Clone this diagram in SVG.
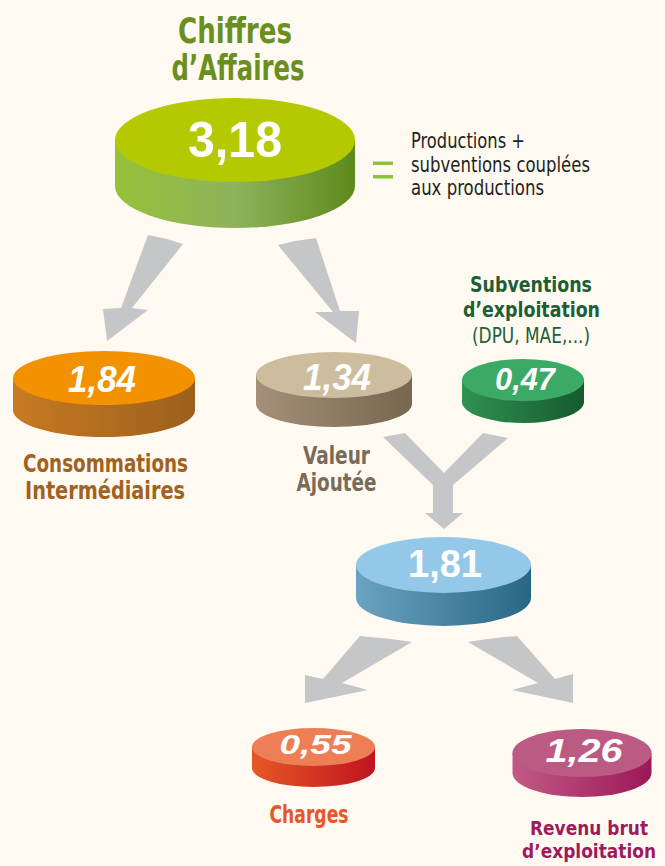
<svg xmlns="http://www.w3.org/2000/svg" width="665" height="866" viewBox="0 0 665 866">
<defs>
<linearGradient id="gCA" x1="0" x2="1" y1="0" y2="0"><stop offset="0" stop-color="#97c13a"/><stop offset="0.5" stop-color="#8db35a"/><stop offset="1" stop-color="#5e8a1c"/></linearGradient>
<linearGradient id="gCI" x1="0" x2="1"><stop offset="0" stop-color="#c77a22"/><stop offset="1" stop-color="#9c601c"/></linearGradient>
<linearGradient id="gVA" x1="0" x2="1"><stop offset="0" stop-color="#a58f79"/><stop offset="1" stop-color="#76674f"/></linearGradient>
<linearGradient id="gSE" x1="0" x2="1"><stop offset="0" stop-color="#2f9253"/><stop offset="1" stop-color="#165a2d"/></linearGradient>
<linearGradient id="gEB" x1="0" x2="1"><stop offset="0" stop-color="#6ba3c2"/><stop offset="1" stop-color="#286783"/></linearGradient>
<linearGradient id="gCH" x1="0" x2="1"><stop offset="0" stop-color="#e55826"/><stop offset="1" stop-color="#bf1420"/></linearGradient>
<linearGradient id="gRB" x1="0" x2="1"><stop offset="0" stop-color="#c15a85"/><stop offset="1" stop-color="#9c1858"/></linearGradient>
</defs>
<style>
.lbl{font-family:"Liberation Sans Narrow","DejaVu Sans Condensed","Liberation Sans",sans-serif;font-weight:bold;text-anchor:middle}
.reg{font-family:"Liberation Sans Narrow","DejaVu Sans Condensed","Liberation Sans",sans-serif;font-weight:normal}
.num{font-family:"Liberation Sans",Arial,sans-serif;font-weight:bold;fill:#ffffff;text-anchor:middle}
.it{font-style:italic}
.arrow{fill:#c5c6c8}
</style>
<rect x="0" y="0" width="665" height="866" fill="#fefaf1"/>

<g id="connectors">
<path class="arrow" d="M148,235 Q166,238 183,244 L132,308 L148,310 L107,341 L103,309 L121,308 Z"/>
<path class="arrow" d="M278,245 Q297,240 316,238 L340,311 L359,311 L356,343 L315,312 L333,312 Z"/>
<path class="arrow" d="M383,437 L405,433 L444,473 L483,433 L508,438 L453,485 L453,513 L463,513 L444,529 L425,513 L433,513 L433,485 Z"/>
<path class="arrow" d="M360,636 Q386,638 412,642 L342,683 L368,690 L305,703 L305,675 L323,679 Z"/>
<path class="arrow" d="M468,642 Q492,638 517,636 L555,679 L573,674 L573,703 L512,690 L538,683 Z"/>
</g>

<g id="node-ca">
<text class="lbl" x="235" y="43" font-size="35" fill="#6a8f1f" textLength="114" lengthAdjust="spacingAndGlyphs">Chiffres</text>
<text class="lbl" x="238" y="80" font-size="35" fill="#6a8f1f" textLength="133" lengthAdjust="spacingAndGlyphs">d’Affaires</text>
<path d="M115,140 L115,186 A120,42 0 0 0 355,186 L355,140 Z" fill="url(#gCA)"/>
<ellipse cx="235" cy="140" rx="120" ry="42" fill="#b5c900"/>
<text class="num" x="235" y="157" font-size="50" textLength="94" lengthAdjust="spacingAndGlyphs">3,18</text>
</g>

<g id="node-eq">
<rect x="373" y="161.5" width="20" height="3.5" fill="#8cc43c"/>
<rect x="373" y="175" width="20" height="3.5" fill="#8cc43c"/>
<text class="reg" font-size="21" fill="#231f20"><tspan x="411" y="148" textLength="114" lengthAdjust="spacingAndGlyphs">Productions +</tspan><tspan x="411" y="172" textLength="179" lengthAdjust="spacingAndGlyphs">subventions couplées</tspan><tspan x="411" y="195" textLength="133" lengthAdjust="spacingAndGlyphs">aux productions</tspan></text>
</g>

<g id="node-ci">
<path d="M13,378 L13,410 A91,27 0 0 0 195,410 L195,378 Z" fill="url(#gCI)"/>
<ellipse cx="104" cy="378" rx="91" ry="27" fill="#f39200"/>
<text class="num it" x="102" y="392" font-size="36" textLength="68" lengthAdjust="spacingAndGlyphs">1,84</text>
<text class="lbl" x="105.5" y="472" font-size="25" fill="#a1621f" textLength="165" lengthAdjust="spacingAndGlyphs">Consommations</text>
<text class="lbl" x="105" y="499" font-size="25" fill="#a1621f" textLength="160" lengthAdjust="spacingAndGlyphs">Intermédiaires</text>
</g>

<g id="node-va">
<path d="M256,375 L256,404 A78,23 0 0 0 412,404 L412,375 Z" fill="url(#gVA)"/>
<ellipse cx="334" cy="375" rx="78" ry="23" fill="#cbbd9d"/>
<text class="num it" x="337" y="390" font-size="37" textLength="68" lengthAdjust="spacingAndGlyphs">1,34</text>
<text class="lbl" x="336.5" y="464" font-size="25" fill="#7a6a58" textLength="67" lengthAdjust="spacingAndGlyphs">Valeur</text>
<text class="lbl" x="336.5" y="491" font-size="25" fill="#7a6a58" textLength="80" lengthAdjust="spacingAndGlyphs">Ajoutée</text>
</g>

<g id="node-se">
<text class="lbl" x="531" y="292" font-size="22" fill="#1d5e36" textLength="122" lengthAdjust="spacingAndGlyphs">Subventions</text>
<text class="lbl" x="531.5" y="317" font-size="22" fill="#1d5e36" textLength="137" lengthAdjust="spacingAndGlyphs">d’exploitation</text>
<text class="reg" x="531" y="343" font-size="22" fill="#1d5e36" text-anchor="middle" textLength="118" lengthAdjust="spacingAndGlyphs">(DPU, MAE,...)</text>
<path d="M462,380 L462,402 A61,21 0 0 0 584,402 L584,380 Z" fill="url(#gSE)"/>
<ellipse cx="523" cy="380" rx="61" ry="21" fill="#3aaa64"/>
<text class="num it" x="525" y="390" font-size="32" textLength="60" lengthAdjust="spacingAndGlyphs">0,47</text>
</g>

<g id="node-eb">
<path d="M356,565 L356,598 A87.5,28 0 0 0 531,598 L531,565 Z" fill="url(#gEB)"/>
<ellipse cx="443.5" cy="565" rx="87.5" ry="28" fill="#93c8e8"/>
<text class="num" x="445" y="577" font-size="38" textLength="74" lengthAdjust="spacingAndGlyphs">1,81</text>
</g>

<g id="node-ch">
<path d="M252,747 L252,768 A61.5,19 0 0 0 375,768 L375,747 Z" fill="url(#gCH)"/>
<ellipse cx="313.5" cy="747" rx="61.5" ry="19" fill="#ee7e56"/>
<text class="num it" x="315.5" y="754" font-size="27" textLength="72" lengthAdjust="spacingAndGlyphs">0,55</text>
<text class="lbl" x="309" y="823" font-size="25" fill="#e8552a" textLength="79" lengthAdjust="spacingAndGlyphs">Charges</text>
</g>

<g id="node-rb">
<path d="M512.5,753 L512.5,773 A69.5,24 0 0 0 651.5,773 L651.5,753 Z" fill="url(#gRB)"/>
<ellipse cx="582" cy="753" rx="69.5" ry="24" fill="#bb5a82"/>
<text class="num it" x="584" y="762" font-size="34" textLength="77" lengthAdjust="spacingAndGlyphs">1,26</text>
<text class="lbl" x="589" y="835" font-size="20" fill="#9e1a5a" textLength="118" lengthAdjust="spacingAndGlyphs">Revenu brut</text>
<text class="lbl" x="589" y="858" font-size="20" fill="#9e1a5a" textLength="134" lengthAdjust="spacingAndGlyphs">d’exploitation</text>
</g>
</svg>
